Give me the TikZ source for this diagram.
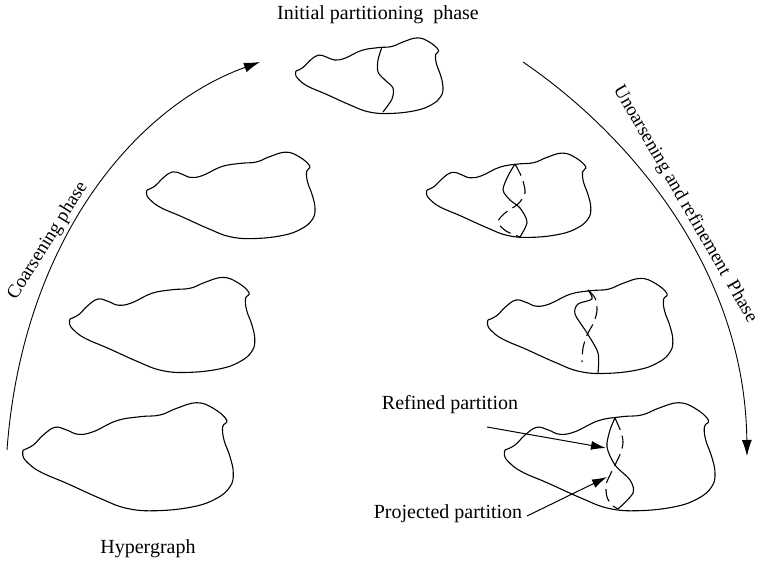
\documentclass[tikz,border=0pt]{standalone}
\usepackage{fontspec}
\setmainfont{Liberation Serif}
\usetikzlibrary{arrows.meta}
\newcommand\blobshape{%
  plot[smooth, tension=0.7] coordinates {(0,0) (10,-5) (20,-15) (31.7,-22.7) (43.4,-20) (55,-15.7) (70,-18.3) (93.4,-29.3) (116.7,-33.3) (136.7,-35) (153.4,-41.7) (173.4,-47.3) (190,-41.7) (203.4,-30) (199.4,-23.3) (200.7,-10) (206.7,6.7) (210,23.3) (206.7,36.7) (193.4,48.3) (170,56.7) (133.4,60.7) (103.4,58.3) (76.7,48.3) (43.4,33.3) (16.7,21.7) (3.4,11.7) (-0.6,5) (0,0)}}
\tikzset{
  blob/.style={line width=1.1pt, line join=round},
  cut/.style={line width=1.1pt},
  cutdash/.style={line width=1.1pt, dash pattern=on 13pt off 6pt},
  phasearc/.style={line width=0.9pt, -{Latex[length=16pt,width=10pt]}},
  pointer/.style={line width=1pt, -{Latex[length=15pt,width=9pt]}},
  lbl/.style={font=\fontsize{20}{24}\selectfont, inner sep=0pt},
  rlbl/.style={font=\fontsize{19}{23}\selectfont, inner sep=0pt}
}
\begin{document}
\begin{tikzpicture}[x=1pt,y=-1pt]
\useasboundingbox[fill=white] (0,0) rectangle (762,563);

% blobs
\begin{scope}[shift={(23.3,450)}] \draw[blob] \blobshape; \end{scope}
\begin{scope}[shift={(70,319)},scale=0.88] \draw[blob] \blobshape; \end{scope}
\begin{scope}[shift={(147,190)},scale=0.8] \draw[blob] \blobshape; \end{scope}
\begin{scope}[shift={(296,71)},scale=0.7] \draw[blob] \blobshape; \end{scope}
\begin{scope}[shift={(427,190)},scale=0.78] \draw[blob] \blobshape; \end{scope}
\begin{scope}[shift={(488,320)},scale=0.88] \draw[blob] \blobshape; \end{scope}
\begin{scope}[shift={(505,450)}] \draw[blob] \blobshape; \end{scope}

% partitions
\draw[cut] plot[smooth] coordinates {(382,47) (378,60) (378,72) (385,80) (393,88) (392,99) (383,112)};

\draw[cut] plot[smooth] coordinates {(515,164) (508,176) (503,190) (510,200) (520,208) (527,222) (520,237)};
\draw[cutdash] plot[smooth] coordinates {(515,164) (522,178) (525,193) (518,204) (505,213) (498,222) (506,231) (520,237)};

\draw[cut] plot[smooth] coordinates {(588,290) (592,299) (578,304) (575,314) (587,333) (598,353) (598,373)};
\draw[cutdash] plot[smooth] coordinates {(588,290) (595,298) (597,310) (594,322) (587,335) (583,348) (582,362)};

\draw[cut] plot[smooth] coordinates {(615,418) (610,430) (607,447) (615,465) (630,480) (633,493) (618,509)};
\draw[cutdash] plot[smooth] coordinates {(615,418) (621,432) (623,442) (621,452) (616,463) (610,475) (606,485) (607,497) (612,505) (618,509)};

% phase arcs
\coordinate (cs) at (7,450);
\coordinate (ce) at (260,62);
\coordinate (us) at (523,62);
\coordinate (ue) at (747,456);
\draw[phasearc] (cs) .. controls (22,245) and (132,108) .. (ce);
\draw[phasearc] (us) .. controls (630,135) and (745,270) .. (ue);

% labels
\node[lbl] (init) at (378,15) {Initial partitioning\ \ phase};
\node[lbl] (hyper) at (148,549) {Hypergraph};
\node[rlbl, rotate=58] (coarse) at (48,241) {Coarsening phase};
\node[rlbl, rotate=-60] (uncoarse) at (685,204) {Unoarsening and refinement\ \ Phase};
\node[lbl] (refined) at (450,405) {Refined partition};
\node[lbl] (projected) at (448,514) {Projected partition};

% pointers
\coordinate (rs) at (487,427);
\coordinate (rt) at (606,448);
\coordinate (ps) at (527,516);
\coordinate (pt) at (607,477);
\draw[pointer] (rs) -- (rt);
\draw[pointer] (ps) -- (pt);
\end{tikzpicture}
\end{document}
